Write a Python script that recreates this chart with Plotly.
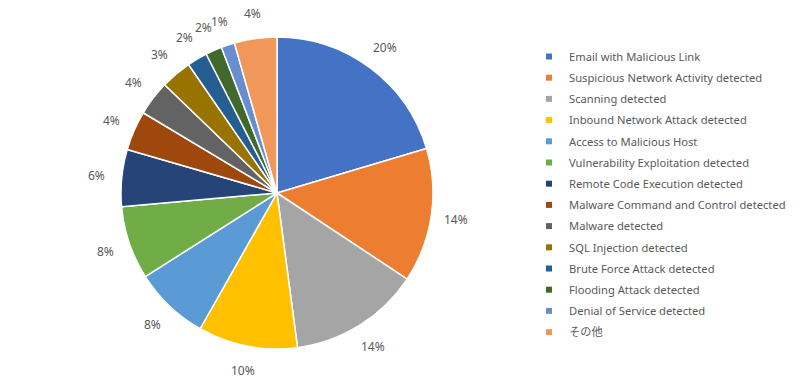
import math
import plotly.graph_objects as go

labels = [
    "Email with Malicious Link",
    "Suspicious Network Activity detected",
    "Scanning detected",
    "Inbound Network Attack detected",
    "Access to Malicious Host",
    "Vulnerability Exploitation detected",
    "Remote Code Execution detected",
    "Malware Command and Control detected",
    "Malware detected",
    "SQL Injection detected",
    "Brute Force Attack detected",
    "Flooding Attack detected",
    "Denial of Service detected",
    "その他",
]
values = [20.4, 13.9, 13.6, 10.3, 7.8, 7.6, 5.9, 4.1, 3.6, 3.2, 2.1, 1.7, 1.4, 4.4]
colors = ["#4472C4", "#ED7D31", "#A5A5A5", "#FFC000", "#5B9BD5", "#70AD47", "#264478",
          "#9E480E", "#636363", "#997300", "#255E91", "#43682B", "#698ED0", "#F1975A"]

W, H = 800, 389
CX, CY, R = 277, 193, 156      # pie centre / radius in pixels
LABEL_R = 181                   # radius of the percentage labels
TXT = "#595959"
FONT = "Noto Sans, Noto Sans CJK JP, sans-serif"

fig = go.Figure()
fig.add_trace(go.Pie(
    labels=labels, values=values, sort=False, direction="clockwise", rotation=0,
    marker=dict(colors=colors, line=dict(color="white", width=1.5)),
    textinfo="none", hoverinfo="label+percent",
    domain=dict(x=[(CX - R) / W, (CX + R) / W], y=[(H - CY - R) / H, (H - CY + R) / H]),
    showlegend=False,
))

# legend built from marker-only traces (small squares like the original)
for i, (lab, col) in enumerate(zip(labels, colors)):
    fig.add_trace(go.Scatter(
        x=[None], y=[None], mode="markers", name=lab,
        marker=dict(symbol="square", size=6, color=col),
        legendgroup=f"g{i}", showlegend=True, hoverinfo="skip",
    ))

# percentage labels outside the pie
total = sum(values)
cum = 0.0
annotations = []
for v in values:
    mid = (cum + v / 2) / total * 2 * math.pi
    cum += v
    px = CX + LABEL_R * math.sin(mid)
    py = CY - LABEL_R * math.cos(mid)
    annotations.append(dict(
        x=px / W, y=1 - py / H, xref="paper", yref="paper",
        text=f"{round(v / total * 100)}%", showarrow=False,
        xanchor="center", yanchor="middle",
        font=dict(color=TXT, size=12, family=FONT),
    ))

fig.update_layout(
    width=W, height=H, margin=dict(l=0, r=0, t=0, b=0, autoexpand=False),
    paper_bgcolor="white", plot_bgcolor="white",
    font=dict(family=FONT, color=TXT, size=12),
    xaxis=dict(visible=False), yaxis=dict(visible=False),
    annotations=annotations,
    legend=dict(x=529 / W, y=1 - 42 / H, xanchor="left", yanchor="top",
                font=dict(size=11.2, color=TXT, family=FONT),
                itemwidth=30, traceorder="grouped", tracegroupgap=2.2,
                bgcolor="rgba(0,0,0,0)"),
)
fig.write_html("out.html", config={"displayModeBar": False},
               post_script="document.body.style.margin='0';")
